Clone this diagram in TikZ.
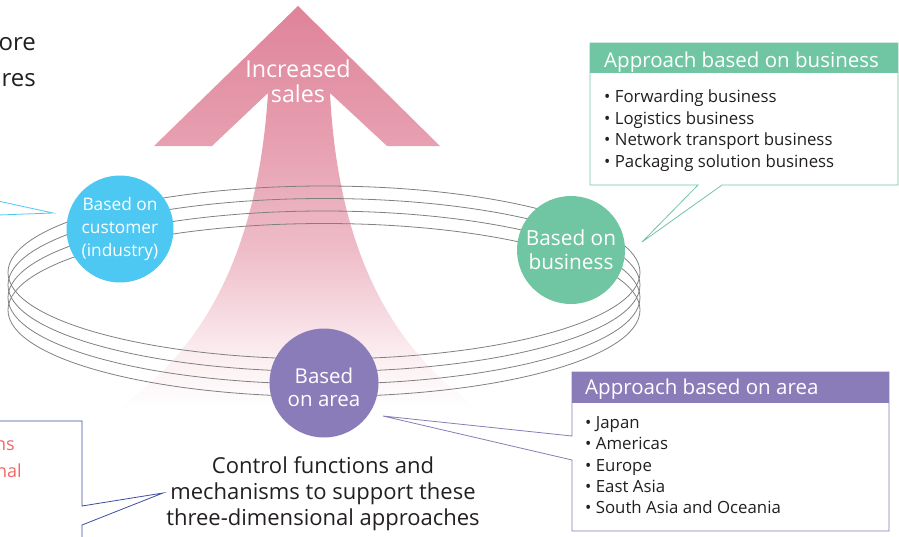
\documentclass[tikz,border=0pt]{standalone}
\usepackage{fontspec}
\setmainfont{Open Sans}
\definecolor{cyanC}{HTML}{4CC8F2}
\definecolor{greenC}{HTML}{70C6A3}
\definecolor{purpleC}{HTML}{8A7BB9}
\definecolor{boxblue}{HTML}{3B4EA0}
\definecolor{redtext}{HTML}{F26767}
\definecolor{ringgray}{HTML}{808080}
\definecolor{darktext}{HTML}{231F20}
\definecolor{pk1}{HTML}{DF8399}
\definecolor{pk2}{HTML}{E7A0B1}
\definecolor{pk3}{HTML}{EEBCC8}
\definecolor{pk4}{HTML}{F5D6DE}
\definecolor{pk5}{HTML}{FBEDF0}
\pgfdeclareverticalshading{arrowshade}{100bp}{color(0bp)=(white); color(25bp)=(white); color(32bp)=(pk5); color(38bp)=(pk4); color(45bp)=(pk3); color(58bp)=(pk2); color(75bp)=(pk1); color(100bp)=(pk1)}
\tikzset{
  ringline/.style={draw=ringgray, line width=0.8},
  circ/.style={circle, inner sep=0pt, text=white, align=center},
  headtext/.style={anchor=west, text=white, font=\fontsize{20.5}{24}\selectfont, inner sep=0pt},
  listtext/.style={anchor=north west, text=darktext, align=left, inner sep=0pt, font=\fontsize{16.8}{21.4}\selectfont},
  maintext/.style={text=darktext, align=center, font=\fontsize{22}{26}\selectfont},
  cuttext/.style={anchor=east, inner sep=0pt},
}
\begin{document}
\begin{tikzpicture}[x=1pt,y=-1pt]
\useasboundingbox (0,0) rectangle (899,536);
% big arrow
\shade[shading=arrowshade] (298,6) -- (440,146) -- (387,146) -- (330,93)
  .. controls (338,250) and (391,350) .. (481,410) -- (115,410)
  .. controls (205,350) and (258,250) .. (268,93) -- (212,146) -- (154,146) -- cycle;
\node[text=white, align=center, font=\fontsize{23.3}{25}\selectfont] (sales) at (298,81) {Increased\\sales};
% rings
\foreach \cy in {272.5,285,297.5,310}
  \draw[ringline] (324,\cy) ellipse [x radius=316, y radius=86.5];
% circles
\node[circ, fill=cyanC, minimum size=107, font=\fontsize{17.3}{23}\selectfont] (cust) at (120,229) {Based on\\customer\\(industry)};
\node[circ, fill=greenC, minimum size=108, font=\fontsize{20.8}{24}\selectfont] (bus) at (571,250) {Based on\\business};
\node[circ, fill=purpleC, minimum size=109] (area) at (324,383) {};
\node[text=white, align=center, font=\fontsize{20.5}{23}\selectfont] (arealabel) at (324,387) {Based\\on area};
% business callout
\coordinate (btip) at (642,242);
\draw[greenC, line width=0.8, fill=white] (590,43) -- (898,43) -- (898,185) -- (722,185) -- (btip) -- (698,185) -- (590,185) -- cycle;
\fill[greenC] (590,43) rectangle (898,73);
\node[headtext] (bushead) at (604,62) {Approach based on business};
\node[listtext] (buslist) at (604,90) {• Forwarding business\\• Logistics business\\• Network transport business\\• Packaging solution business};
% area callout
\coordinate (atip) at (383,416);
\draw[purpleC, line width=0.8, fill=white] (572,372) -- (889,372) -- (889,531) -- (572,531) -- (572,460) -- (atip) -- (572,436) -- cycle;
\fill[purpleC] (572,372) rectangle (889,403);
\node[headtext] (areahead) at (585,389) {Approach based on area};
\node[listtext] (arealist) at (585,416) {• Japan\\• Americas\\• Europe\\• East Asia\\• South Asia and Oceania};
% control text and callout
\node[maintext] (ctrl) at (323,494) {Control functions and\\mechanisms to support these\\three-dimensional approaches};
\coordinate (ctip) at (163,493);
\draw[boxblue, line width=0.8] (-5,421) -- (82,421) -- (82,506) -- (ctip) -- (82,525) -- (82,540);
\node[cuttext, text=redtext, font=\fontsize{18}{24}\selectfont] (red1) at (15,446) {ns};
\node[cuttext, text=redtext, font=\fontsize{18}{24}\selectfont] (red2) at (22,471) {nal};
% customer pointer
\coordinate (cutip) at (53,213);
\draw[cyanC, line width=0.8] (-2,201) -- (cutip) -- (-2,215);
% top-left cut text
\node[cuttext, text=darktext, font=\fontsize{24}{30}\selectfont] (tl1) at (36,44) {ore};
\node[cuttext, text=darktext, font=\fontsize{24}{30}\selectfont] (tl2) at (36,80) {res};
\end{tikzpicture}
\end{document}
